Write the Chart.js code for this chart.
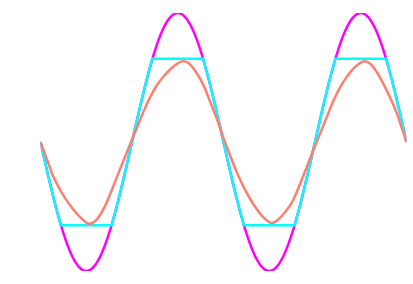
<!DOCTYPE html>
<html>
<head>
<meta charset="utf-8">
<script src="https://cdn.jsdelivr.net/npm/chart.js@4"></script>
<style>
  html, body { margin: 0; padding: 0; background: #ffffff; }
  #wrap { width: 413px; height: 284px; position: relative; }
</style>
</head>
<body>
<div id="wrap"><canvas id="c"></canvas></div>
<script>
// Phase (degrees) of the sampled sine wave
const phase = [0,15,30,45,60,75,90,105,120,135,150,165,180,195,210,225,240,255,270,285,300,315,330,345,360,
               375,390,405,420,435,450,465,480,495,510,525,540,555,570,585,600,615,630,645,660,675,690,705,720];
// Raw signal (magenta)
const rawSignal = [0,-0.259,-0.5,-0.707,-0.866,-0.966,-1,-0.966,-0.866,-0.707,-0.5,-0.259,0,0.259,0.5,0.707,0.866,0.966,1,0.966,0.866,0.707,0.5,0.259,0,
                   -0.259,-0.5,-0.707,-0.866,-0.966,-1,-0.966,-0.866,-0.707,-0.5,-0.259,0,0.259,0.5,0.707,0.866,0.966,1,0.966,0.866,0.707,0.5,0.259,0];
// Clipped signal (cyan)
const clipPhase = [0,15,30,40,140,150,165,180,195,210,220,320,330,345,360,375,390,400,500,510,525,540,555,570,580,680,690,705,720];
const clipSignal = [0,-0.259,-0.5,-0.645,-0.645,-0.5,-0.259,0,0.259,0.5,0.645,0.645,0.5,0.259,0,-0.259,-0.5,-0.645,-0.645,-0.5,-0.259,0,0.259,0.5,0.645,0.645,0.5,0.259,0];
// Smoothed signal (salmon)
const smoothPhase = [0,14,24,37,50,63,76,89,96,106,117,130,143,156,170,179,189,202,215,229,242,255,268,278,291,307,320,333,347,361,
                     377,390,403,416,429,442,454,465,481,495,508,521,535,550,563,576,589,602,615,628,637,648,661,674,687,701,710,720];
const smoothSignal = [0,-0.15,-0.255,-0.36,-0.445,-0.515,-0.575,-0.622,-0.635,-0.618,-0.568,-0.47,-0.345,-0.215,-0.08,0.01,0.105,0.228,0.342,0.44,0.508,0.562,0.604,0.625,0.612,0.535,0.445,0.32,0.178,0.02,
                      -0.145,-0.27,-0.375,-0.465,-0.54,-0.598,-0.628,-0.61,-0.545,-0.465,-0.35,-0.222,-0.08,0.065,0.192,0.318,0.422,0.503,0.567,0.61,0.626,0.608,0.545,0.455,0.35,0.222,0.118,0];

const toPoints = (xs, ys) => xs.map((x, i) => ({ x: x, y: ys[i] }));

new Chart(document.getElementById('c'), {
  type: 'line',
  data: {
    datasets: [
      {
        label: 'smoothed',
        data: toPoints(smoothPhase, smoothSignal),
        borderColor: '#fa8072',
        borderWidth: 2.5,
        pointRadius: 0,
        tension: 0.35,
        fill: false,
        order: 0
      },
      {
        label: 'clipped',
        data: toPoints(clipPhase, clipSignal),
        borderColor: '#00ffff',
        borderWidth: 2.5,
        pointRadius: 0,
        tension: 0,
        fill: false,
        order: 1
      },
      {
        label: 'raw',
        data: toPoints(phase, rawSignal),
        borderColor: '#ff00ff',
        borderWidth: 2.5,
        pointRadius: 0,
        cubicInterpolationMode: 'monotone',
        fill: false,
        order: 2
      }
    ]
  },
  options: {
    responsive: true,
    maintainAspectRatio: false,
    animation: false,
    layout: { padding: { left: 40.5, right: 6.5, top: 13, bottom: 13 } },
    plugins: { legend: { display: false }, tooltip: { enabled: false } },
    scales: {
      x: { type: 'linear', min: 0, max: 720, display: false },
      y: { min: -1, max: 1, display: false }
    }
  }
});
</script>
</body>
</html>
